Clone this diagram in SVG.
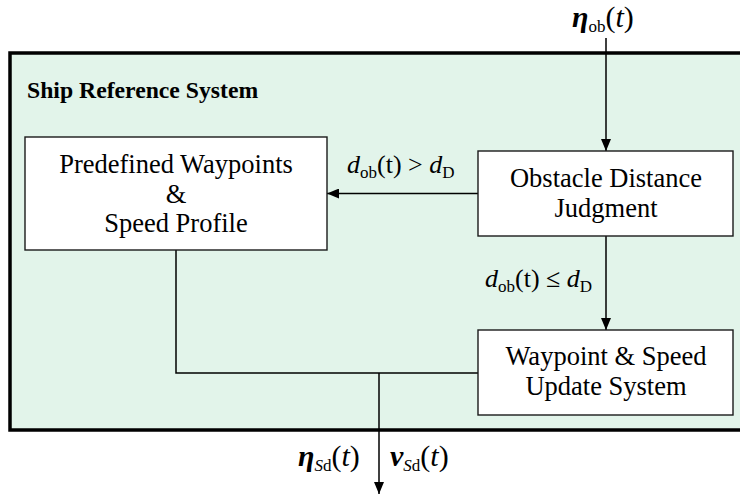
<svg xmlns="http://www.w3.org/2000/svg" width="740" height="502" viewBox="0 0 740 502">
<defs>
<style>
.lbl{font-size:26.5px;text-anchor:middle}
.box{fill:#fff;stroke:#1a1a1a;stroke-width:1.4}
.wire{fill:none;stroke:#000;stroke-width:1.5}
.math{font-size:26px}
.big{font-size:30px}
.sub{font-size:17px}
.it{font-style:italic}
.bi{font-style:italic;font-weight:bold}
</style>
<marker id="arr" viewBox="0 0 12 10" refX="12" refY="5" markerWidth="12" markerHeight="10" markerUnits="userSpaceOnUse" orient="auto">
<path d="M0,0 L12,5 L0,10 Z" fill="#000"/>
</marker>
</defs>
<g id="frame">
<rect x="10" y="53" width="745" height="377" fill="#e2f4ea" stroke="#000" stroke-width="3.5"/>
<text x="27" y="98" font-size="23.7" font-weight="bold" font-family="Liberation Serif">Ship Reference System</text>
</g>
<g id="connectors">
<line class="wire" x1="606" y1="38" x2="606" y2="151" marker-end="url(#arr)"/>
<line class="wire" x1="478" y1="193.5" x2="327" y2="193.5" marker-end="url(#arr)"/>
<line class="wire" x1="606" y1="236" x2="606" y2="330" marker-end="url(#arr)"/>
<polyline class="wire" points="176,250 176,373 478,373"/>
<line class="wire" x1="379" y1="373" x2="379" y2="494" marker-end="url(#arr)"/>
</g>
<g id="predefined">
<rect class="box" x="25" y="137" width="302" height="113"/>
<text class="lbl" x="176" y="173" font-family="Liberation Serif">Predefined Waypoints</text>
<text class="lbl" x="176" y="203" font-family="Liberation Serif">&amp;</text>
<text class="lbl" x="176" y="232" font-family="Liberation Serif">Speed Profile</text>
</g>
<g id="obstacle">
<rect class="box" x="478" y="151" width="255" height="85"/>
<text class="lbl" x="606" y="187" font-family="Liberation Serif">Obstacle Distance</text>
<text class="lbl" x="606" y="217" font-family="Liberation Serif">Judgment</text>
</g>
<g id="update">
<rect class="box" x="478" y="330" width="255" height="85"/>
<text class="lbl" x="606" y="365" font-family="Liberation Serif">Waypoint &amp; Speed</text>
<text class="lbl" x="606" y="395" font-family="Liberation Serif">Update System</text>
</g>
<g id="labels">
<text class="big" x="572" y="27" font-family="Liberation Serif"><tspan class="bi">η</tspan><tspan class="sub" dy="5">ob</tspan><tspan dy="-5">(</tspan><tspan class="it">t</tspan>)</text>
<text class="math" x="347" y="173" font-family="Liberation Serif"><tspan class="it">d</tspan><tspan class="sub" dy="5">ob</tspan><tspan dy="-5">(t) &gt; </tspan><tspan class="it">d</tspan><tspan class="sub" dy="5">D</tspan></text>
<text class="math" x="485" y="287" font-family="Liberation Serif"><tspan class="it">d</tspan><tspan class="sub" dy="5">ob</tspan><tspan dy="-5">(t) ≤ </tspan><tspan class="it">d</tspan><tspan class="sub" dy="5">D</tspan></text>
<text class="big" x="298" y="466" font-family="Liberation Serif"><tspan class="bi">η</tspan><tspan class="sub it" dy="5">S</tspan><tspan class="sub">d</tspan><tspan dy="-5">(</tspan><tspan class="it">t</tspan>)</text>
<text class="big" x="390" y="466" font-family="Liberation Serif"><tspan class="bi">v</tspan><tspan class="sub it" dy="5">S</tspan><tspan class="sub">d</tspan><tspan dy="-5">(</tspan><tspan class="it">t</tspan>)</text>
</g>
</svg>
